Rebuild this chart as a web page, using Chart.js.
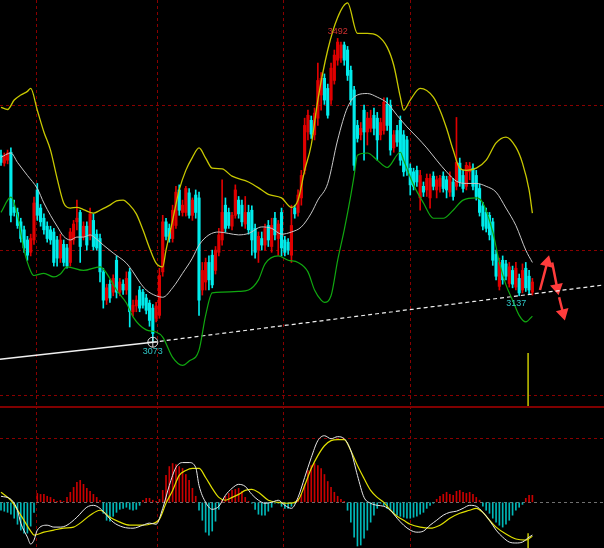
<!DOCTYPE html>
<html>
<head>
<meta charset="utf-8">
<script src="https://cdn.jsdelivr.net/npm/chart.js"></script>
<style>
  html, body { margin: 0; padding: 0; background: #000; }
  canvas { display: block; }
</style>
</head>
<body>
<canvas id="kline" width="604" height="406"></canvas>
<canvas id="macd" width="604" height="142"></canvas>
<script>
// K线数据 (每根K线: 开 高 低 收)
const open = [3331,3320,3324,3335,3259,3252,3239,3228,3214,3197,3214,3283,3258,3244,3233,3228,3225,3214,3189,3208,
  3203,3183,3214,3239,3252,3219,3233,3219,3241,3222,3216,3170,3131,3153,3142,3186,3142,3153,3145,3170,
  3115,3123,3145,3142,3134,3127,3120,3106,3110,3170,3239,3230,3216,3234,3283,3252,3252,3279,3248,3276,
  3272,3145,3156,3183,3193,3172,3197,3214,3262,3252,3233,3248,3269,3262,3236,3252,3255,3230,3200,3216,
  3207,3234,3205,3244,3216,3252,3214,3211,3193,3258,3252,3272,3310,3363,3379,3359,3382,3414,3437,3423,
  3407,3434,3462,3465,3483,3476,3448,3421,3372,3359,3393,3363,3368,3386,3382,3359,3365,3401,3400,3341,
  3365,3379,3359,3352,3313,3308,3310,3272,3288,3283,3272,3302,3283,3288,3302,3297,3280,3294,3288,3320,
  3303,3288,3308,3313,3303,3285,3261,3252,3248,3239,3194,3150,3186,3181,3154,3172,3149,3161,3145,3175,
  3164,3142];
const high = [3338,3334,3338,3341,3269,3258,3244,3233,3219,3222,3273,3292,3263,3250,3239,3233,3230,3219,3222,3214,
  3208,3230,3241,3269,3255,3239,3239,3258,3250,3228,3222,3175,3153,3159,3166,3192,3161,3159,3170,3175,
  3131,3137,3150,3146,3139,3131,3125,3128,3175,3248,3244,3236,3262,3288,3290,3269,3288,3285,3272,3283,
  3280,3183,3189,3192,3200,3205,3230,3297,3272,3258,3252,3290,3274,3269,3274,3262,3261,3236,3225,3225,
  3236,3241,3244,3252,3241,3258,3219,3216,3262,3262,3283,3310,3382,3393,3385,3396,3458,3445,3443,3429,
  3458,3476,3492,3487,3487,3481,3454,3426,3379,3376,3400,3390,3393,3396,3390,3382,3410,3410,3407,3365,
  3372,3385,3365,3357,3319,3313,3316,3310,3294,3305,3305,3308,3302,3303,3308,3302,3308,3299,3383,3327,
  3310,3321,3321,3319,3310,3291,3266,3258,3252,3244,3200,3189,3192,3186,3183,3178,3183,3167,3181,3183,
  3172,3161];
const low = [3317,3316,3319,3239,3247,3230,3211,3197,3186,3192,3208,3241,3233,3222,3211,3208,3178,3178,3183,3178,
  3175,3178,3208,3228,3183,3214,3200,3214,3200,3200,3156,3120,3125,3128,3137,3134,3137,3139,3139,3094,
  3109,3115,3115,3120,3112,3095,3073,3101,3106,3164,3214,3211,3211,3230,3248,3247,3247,3244,3241,3244,
  3110,3138,3145,3145,3148,3167,3192,3207,3225,3230,3228,3244,3244,3233,3230,3222,3193,3189,3183,3200,
  3200,3205,3197,3214,3193,3192,3192,3194,3183,3244,3247,3262,3305,3352,3354,3352,3372,3393,3401,3382,
  3401,3429,3455,3459,3455,3434,3400,3310,3349,3352,3324,3345,3363,3359,3324,3352,3360,3365,3331,3335,
  3343,3317,3302,3303,3276,3283,3288,3255,3274,3274,3258,3283,3272,3280,3280,3272,3274,3269,3283,3288,
  3280,3283,3297,3283,3269,3247,3228,3225,3214,3179,3159,3145,3153,3159,3149,3148,3145,3137,3141,3143,
  3139,3138];
const close = [3321,3330,3334,3248,3252,3234,3216,3203,3193,3216,3265,3248,3239,3228,3216,3214,3183,3189,3214,3183,
  3178,3225,3236,3244,3205,3233,3207,3250,3205,3203,3170,3131,3148,3134,3161,3142,3156,3145,3161,3115,
  3124,3131,3120,3124,3117,3103,3085,3123,3165,3239,3219,3216,3255,3280,3255,3262,3285,3248,3269,3252,
  3131,3172,3183,3159,3152,3200,3221,3252,3230,3234,3248,3283,3250,3239,3252,3228,3214,3197,3219,3207,
  3230,3214,3234,3221,3236,3203,3197,3200,3234,3250,3276,3303,3372,3386,3360,3389,3434,3437,3407,3386,
  3451,3469,3487,3483,3462,3441,3407,3317,3354,3368,3363,3382,3382,3368,3352,3376,3404,3372,3338,3359,
  3349,3324,3308,3310,3290,3288,3294,3303,3280,3299,3299,3288,3297,3299,3285,3283,3302,3274,3321,3294,
  3285,3317,3316,3288,3274,3252,3233,3230,3221,3186,3164,3183,3159,3164,3177,3153,3175,3141,3172,3148,
  3145,3156];

// 布林线 (读图取样点: K线序号 -> 价格)
const upperX = [0,2,4,6,8,9,11,13,15,17,19,21,23,25,28,30,33,35,37,39,41,43,45,47,49,50,52,54,56,58,60,62,64,67,70,75,79,81,85,88,
  90,92,94,96,99,102,105,108,111,114,117,119,121,122,124,127,131,133,135,137,139,141,144,147,150,153,156,158,160,161];
const upper = [3397,3394,3407,3414,3419,3423,3393,3363,3338,3299,3265,3258,3259,3256,3251,3255,3262,3268,3269,3262,3250,3228,3203,3182,3177,3200,3241,3283,3310,3328,
  3341,3327,3313,3312,3302,3294,3283,3277,3272,3259,3269,3310,3345,3407,3476,3521,3541,3499,3499,3496,3480,3455,3411,3393,3407,3423,3411,3393,3368,3338,
  3313,3310,3313,3324,3348,3356,3342,3320,3283,3251];
const midX = [0,3,5,8,11,13,15,17,19,21,23,25,27,29,31,34,38,40,42,44,47,49,52,55,58,60,63,66,69,72,75,79,82,85,88,91,94,96,99,102,
  105,108,111,114,117,120,123,126,129,132,135,138,141,144,147,150,153,156,159,161];
const mid = [3328,3334,3321,3303,3285,3265,3248,3233,3219,3214,3218,3218,3221,3215,3207,3196,3182,3170,3156,3145,3137,3135,3148,3168,3189,3207,3221,3225,3223,3221,
  3223,3232,3230,3222,3225,3232,3251,3269,3292,3352,3397,3414,3416,3411,3403,3386,3370,3356,3341,3324,3308,3295,3292,3292,3288,3280,3258,3234,3200,3183];
const lowerX = [0,3,5,7,9,10,13,16,18,20,25,30,32,35,38,40,44,47,49,52,55,57,60,62,64,67,72,75,78,80,84,87,90,93,95,97,98,100,102,104,
  106,107,108,111,114,117,121,122,125,128,131,134,137,140,144,146,149,151,153,155,157,159,161];
const lower = [3252,3273,3248,3200,3171,3165,3168,3163,3167,3177,3172,3177,3168,3145,3127,3108,3090,3087,3080,3052,3041,3047,3062,3110,3141,3142,3143,3145,3159,3181,
  3192,3186,3183,3170,3145,3131,3128,3137,3186,3228,3276,3303,3331,3334,3324,3314,3335,3324,3290,3265,3244,3244,3255,3269,3272,3265,3225,3183,3152,3131,
  3110,3101,3109];

// MACD
const hist = [-5,-5.6,-6.3,-7.5,-10,-13.8,-17.5,-19.4,-19.4,-15,-6.3,
  5.6,5,5,3.8,3.1,1.9,0.6,1.2,0.6,
  3.1,6.3,9.4,12.5,13.8,11.3,8.8,6.9,5,3.1,1.3,
  -6.9,-11.3,-11.9,-8.8,-6.3,-4.4,-3.8,-3.1,-4.4,-5,-4.4,-1.9,
  1.3,2.5,2.5,1.3,
  0.6,1.9,7.5,16.9,22.5,24.4,23.8,22.5,21.3,17.5,13.8,8.8,3.8,
  -5,-11.3,-18.8,-20.6,-18.1,-11.9,-4.4,
  1.3,3.8,5.6,7.5,8.1,8.8,6.9,3.1,0.6,
  -0.6,-4.4,-7.5,-8.1,-8.1,-5.6,-3.1,-0.6,
  -0.6,-2.5,-3.8,-3.8,-2.5,-0.6,
  2.5,5,11.3,20,23.1,24.4,23.1,21.3,17.5,13.1,9.4,6.3,3.8,1.9,0.6,
  -5,-12.5,-21.9,-27.5,-26.9,-22.5,-17.5,-12.5,-8.1,-3.8,-0.6,
  -1.9,-3.8,-5,-6.9,-8.1,-8.8,-9.4,-10,-10,-9.4,-8.8,-7.5,-6.3,-3.8,-1.9,-0.6,
  1.9,3.8,5,6.3,5,4.4,6.9,7.5,6.3,5.6,6.3,5,3.1,1.3,
  -2.5,-5,-6.9,-10,-12.5,-14.4,-15.6,-13.8,-11.3,-8.1,-5,-3.1,-1.3,
  2.5,4.4,4.4];
const difX = [0,3,5,6,8,9,10,11,14,16,18,20,23,26,28,30,32,34,37,40,43,45,47,49,51,53,55,57,59,60,62,64,66,68,70,72,74,76,78,80,
  82,84,86,88,90,92,94,96,98,100,102,104,106,108,110,112,114,116,118,120,122,124,126,128,130,132,134,136,138,140,142,144,146,148,150,152,154,156,158,160,161];
const dif = [3.8,1.9,-5,-13.1,-21.9,-26.3,-23.8,-17.5,-14.4,-15.6,-15.6,-14.4,-9.4,-3.1,-1.9,-3.8,-8.1,-12.5,-15.6,-16.3,-14.4,-13.1,-13.8,-3.8,10.6,21.9,25,25,21.9,10.6,
  0,-4.4,-2.5,4.4,8.8,11.3,10,5,1.3,-0.6,0,1.3,-1.9,-3.8,3.1,15.6,28.1,38.8,41.9,40,41.3,40,32.5,16.9,3.1,-0.6,-1.9,-2.5,-5,-10,
  -14.4,-17.5,-18.8,-18.1,-14.4,-11.3,-8.1,-6.3,-5.6,-3.8,-1.9,-2.5,-6.3,-11.3,-17.5,-21.9,-25,-25.6,-25,-21.9,-20.6];
const deaX = [0,3,6,9,10,13,16,19,22,24,27,30,33,36,39,42,45,48,50,52,54,56,58,60,62,64,66,68,70,72,74,76,78,81,84,87,90,92,94,96,
  98,100,102,104,106,108,110,112,114,116,118,120,122,124,127,130,133,136,139,142,144,146,148,150,153,156,159,161];
const dea = [6.3,1.3,-8.1,-18.1,-20.6,-18.8,-17.5,-16.3,-15.6,-13.1,-8.1,-5,-9.4,-12.5,-14.4,-14.4,-13.8,-10.6,-0.6,7.5,16.9,20,21.3,21.3,15.6,8.8,3.1,1.3,3.1,5,
  7.5,8.1,6.3,1.3,0,-0.6,1.3,10.6,21.3,29.4,35.6,38.8,39.4,39.4,32.5,23.1,15,7.5,3.1,0,-5,-8.8,-11.3,-13.8,-15.6,-16.3,-14.4,-10,-6.9,-5,
  -3.8,-6.3,-11.3,-15.6,-20,-23.1,-23.8,-21.3];

// 画线: 趋势线, 箭头, 光标
const trendX = [-0.3, 46, 182.7];
const trendY = [3049.6, 3073, 3152];
const arrowX = [[163.3, 165.5], [167, 168.5], [169.1, 170.3]];
const arrowY = [[3145, 3183], [3183, 3148], [3135, 3113]];
const arrowRot = [14, 169, 166];
const cursorX = 159.7;
const cursorK = [3058, 2985];
const cursorM = [-19.4, -28.75];
const gridX = [10.9, 47.3, 85.5, 124.2];

const UP = '#e00000', DOWN = '#00ecec', GRID = '#8a0000';
const X_MIN = -0.3, X_MAX = 182.7;
const idx = open.map((_, i) => i);
const candleColor = idx.map(i => close[i] >= open[i] ? UP : DOWN);
const pts = (xs, ys) => xs.map((x, k) => ({ x: x, y: ys[k] }));

function xAxis() {
  return {
    type: 'linear', min: X_MIN, max: X_MAX, offset: false,
    ticks: { display: false },
    grid: { color: GRID, drawTicks: false, offset: false },
    border: { display: false, dash: [3, 3] },
    afterBuildTicks: s => { s.ticks = gridX.map(v => ({ value: v })); }
  };
}

function line(data, color, width, extra) {
  return Object.assign({ type: 'line', data: data, borderColor: color, borderWidth: width,
    pointRadius: 0, cubicInterpolationMode: 'monotone', order: 0 }, extra || {});
}

// 价格标注
const marks = [
  { i: 46, p: low[46], dy: 9, color: '#30c8c8' },
  { i: 157, p: low[157], dy: 8, dx: -3, color: '#30c8c8' },
  { i: 102, p: high[102], dy: -7, color: '#d03030' }
];
const markPlugin = {
  id: 'marks',
  afterDatasetsDraw(chart) {
    const { ctx, scales } = chart;
    ctx.save();
    ctx.font = '9px "Liberation Sans", sans-serif';
    ctx.textAlign = 'center';
    ctx.textBaseline = 'middle';
    marks.forEach(m => {
      ctx.fillStyle = m.color;
      ctx.fillText(String(m.p), scales.x.getPixelForValue(m.i) + (m.dx || 0), scales.y.getPixelForValue(m.p) + m.dy);
    });
    ctx.restore();
  }
};

const arrowSets = arrowX.map((xs, k) => line(pts(xs, arrowY[k]), '#ff3c3c', 2.5, {
  pointRadius: [0, 5], pointStyle: 'triangle', rotation: [0, arrowRot[k]],
  pointBackgroundColor: '#ff3c3c', pointBorderColor: '#ff3c3c'
}));

new Chart(document.getElementById('kline'), {
  type: 'bar',
  data: {
    datasets: [
      { data: idx.map(i => ({ x: i, y: [low[i], high[i]] })), backgroundColor: candleColor,
        barThickness: 1, grouped: false, order: 2 },
      { data: idx.map(i => ({ x: i, y: [open[i], close[i]] })), backgroundColor: candleColor,
        barThickness: 2.5, grouped: false, minBarLength: 1, order: 1 },
      line(pts(upperX, upper), '#c8c800', 1.3),
      line(pts(midX, mid), '#c8c8c8', 1),
      line(pts(lowerX, lower), '#10a810', 1.2),
      line(pts(trendX.slice(0, 2), trendY.slice(0, 2)), '#f0f0f0', 1.5),
      line(pts(trendX.slice(1), trendY.slice(1)), '#f0f0f0', 1.2, { borderDash: [4, 3] }),
      line([{ x: trendX[1], y: trendY[1] }], '#e0e0e0', 1, { pointRadius: 5, pointStyle: 'circle', pointBorderColor: '#e0e0e0', pointBackgroundColor: 'rgba(0,0,0,0)' }),
      line([{ x: trendX[1], y: trendY[1] }], '#e0e0e0', 1, { pointRadius: 5, pointStyle: 'cross', pointBorderColor: '#e0e0e0' }),
      line(pts([cursorX, cursorX], cursorK), '#c8c800', 1.5),
      ...arrowSets
    ]
  },
  options: {
    responsive: false, animation: false,
    layout: { padding: 0, autoPadding: false },
    plugins: { legend: { display: false }, tooltip: { enabled: false } },
    scales: {
      x: xAxis(),
      y: {
        min: 2985, max: 3545,
        ticks: { display: false },
        grid: { color: GRID, drawTicks: false },
        border: { display: false, dash: [3, 3] },
        afterBuildTicks: s => { s.ticks = [3000, 3200, 3400].map(v => ({ value: v })); }
      }
    }
  },
  plugins: [markPlugin]
});

new Chart(document.getElementById('macd'), {
  type: 'bar',
  data: {
    datasets: [
      { data: idx.map(i => ({ x: i, y: hist[i] })), backgroundColor: hist.map(v => v >= 0 ? '#c80000' : '#00b8b8'),
        barThickness: 1, order: 1 },
      line(pts(difX, dif), '#e8e8e8', 1),
      line(pts(deaX, dea), '#e0e000', 1.2),
      line(pts([cursorX, cursorX], cursorM), '#c8c800', 1.5)
    ]
  },
  options: {
    responsive: false, animation: false,
    layout: { padding: 0, autoPadding: false },
    plugins: { legend: { display: false }, tooltip: { enabled: false } },
    scales: {
      x: xAxis(),
      y: {
        min: -28.75, max: 60.6,
        ticks: { display: false },
        grid: {
          drawTicks: false,
          color: c => c.tick && c.tick.value === 0 ? '#707070' : (c.tick && c.tick.value === 60 ? '#800000' : GRID),
          lineWidth: c => c.tick && c.tick.value === 60 ? 2 : 1
        },
        border: { display: false, dash: c => c.tick && c.tick.value === 60 ? [] : [3, 3] },
        afterBuildTicks: s => { s.ticks = [0, 40, 60].map(v => ({ value: v })); }
      }
    }
  }
});
</script>
</body>
</html>
